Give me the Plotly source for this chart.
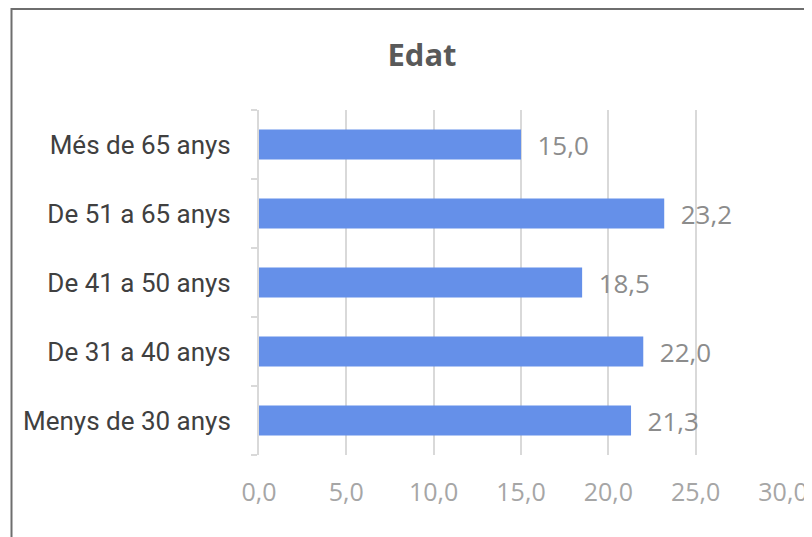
import plotly.graph_objects as go

categories = ["Menys de 30 anys", "De 31 a 40 anys", "De 41 a 50 anys", "De 51 a 65 anys", "Més de 65 anys"]
values = [21.3, 22.0, 18.5, 23.2, 15.0]
x_ticks = [0, 5, 10, 15, 20, 25, 30]

FONT = "Roboto"
NUMFONT = "Open Sans"

# page body has an 8px default margin, so the figure is laid out shifted by 8px
L, T, PW, PH = 251, 102, 524, 345
W, H = 812, 537

fig = go.Figure()
fig.add_trace(go.Bar(
    y=categories,
    x=values,
    orientation="h",
    marker=dict(color="#6590E9", line=dict(width=0)),
    text=[f"{v:.1f}".replace(".", ",") for v in values],
    texttemplate="  %{text}",
    textposition="outside",
    constraintext="none",
    cliponaxis=False,
    textfont=dict(family=NUMFONT, size=26, color="#8C8C8C"),
    hoverinfo="skip",
))

fig.update_layout(
    width=W, height=H,
    margin=dict(l=L, r=W - L - PW, t=T, b=H - T - PH),
    paper_bgcolor="white",
    plot_bgcolor="white",
    separators=",.",
    showlegend=False,
    bargap=0.565,
    title=dict(text="<b>Edat</b>", x=414 / W, xref="container", xanchor="center",
               y=1 - 47 / H, yref="container", yanchor="middle",
               font=dict(family="Open Sans", size=31, color="#595959")),
    xaxis=dict(range=[0, 30], tickvals=x_ticks, tickformat=".1f",
               showgrid=True, gridcolor="#D9D9D9", gridwidth=2,
               zeroline=False, showline=False, ticks="",
               tickfont=dict(family=NUMFONT, size=25, color="#A6A6A6"),
               ticklabelstandoff=20),
    yaxis=dict(categoryorder="array", categoryarray=categories,
               showline=True, linecolor="#D9D9D9", linewidth=2,
               ticks="outside", tickson="boundaries", ticklen=6, tickcolor="#D9D9D9", tickwidth=2,
               showgrid=False, zeroline=False,
               tickfont=dict(family=FONT, size=26, color="#404040"),
               ticklabelstandoff=21),
    shapes=[dict(type="rect", xref="paper", yref="paper",
                 x0=(3.5 - L) / PW, x1=(W + 30 - L) / PW,
                 y0=(T + PH - (H + 30)) / PH, y1=(T + PH - 1) / PH,
                 line=dict(color="#6E6E6E", width=2), fillcolor="rgba(0,0,0,0)", layer="below")],
)

fig.write_html("out.html")
